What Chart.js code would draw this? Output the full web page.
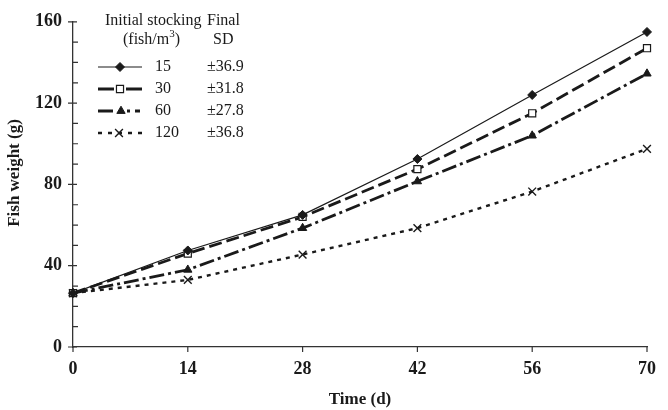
<!DOCTYPE html>
<html>
<head>
<meta charset="utf-8">
<script src="https://cdn.jsdelivr.net/npm/chart.js@4.4.0/dist/chart.umd.min.js"></script>
<style>
  body { margin: 0; background: #fff; }
  #wrap { width: 668px; height: 410px; }
</style>
</head>
<body>
<div id="wrap"><canvas id="myChart" width="668" height="410"></canvas></div>
<script>
    // values
    const DAYS = [0, 14, 28, 42, 56, 70]
    const W15 = [26.5, 47.5, 65, 92.5, 124, 155]
    const W30 = [26.5, 46, 64, 87.5, 115, 147]
    const W60 = [26.5, 38, 58.5, 81.5, 104, 134.5]
    const W120 = [26.5, 33, 45.5, 58.5, 76.5, 97.5]

    const STOCKING = ['15', '30', '60', '120']
    const FINAL_SD = ['±36.9', '±31.8', '±27.8', '±36.8']

    const Y_MAJOR = [0, 40, 80, 120, 160]
    const Y_MINOR = [10, 20, 30, 50, 60, 70, 90, 100, 110, 130, 140, 150]

    const SERIF = "'Liberation Serif', 'Times New Roman', serif"
    const INK = '#1a1a1a'

    function pts(arr) {
      return DAYS.map((d, i) => ({ x: d, y: arr[i] }))
    }

    // tick marks like the original: long major ticks across the y axis, short minor ones inside
    const tickMarks = {
      id: 'tickMarks',
      afterDraw(chart) {
        const ctx = chart.ctx
        const xs = chart.scales.x
        const ys = chart.scales.y
        const left = chart.chartArea.left
        const bottom = chart.chartArea.bottom
        ctx.save()
        ctx.strokeStyle = '#333'
        ctx.lineWidth = 1.2
        ctx.beginPath()
        Y_MAJOR.forEach(v => {
          const y = ys.getPixelForValue(v)
          ctx.moveTo(left - 5, y)
          ctx.lineTo(left + 4, y)
        })
        Y_MINOR.forEach(v => {
          const y = ys.getPixelForValue(v)
          ctx.moveTo(left, y)
          ctx.lineTo(left + 5, y)
        })
        DAYS.forEach(d => {
          const x = xs.getPixelForValue(d)
          ctx.moveTo(x, bottom)
          ctx.lineTo(x, bottom + 5)
        })
        ctx.stroke()

        // y axis title, sits a bit above the middle of the axis as in the original
        ctx.translate(15, 173)
        ctx.rotate(-Math.PI / 2)
        ctx.fillStyle = INK
        ctx.font = 'bold 17px ' + SERIF
        ctx.textAlign = 'center'
        ctx.textBaseline = 'middle'
        ctx.fillText('Fish weight (g)', 0, 0)
        ctx.restore()
      }
    }

    // the legend table in the upper left
    const tableLegend = {
      id: 'tableLegend',
      afterDraw(chart) {
        const ctx = chart.ctx
        ctx.save()
        ctx.fillStyle = INK
        ctx.font = '16px ' + SERIF
        ctx.textBaseline = 'middle'
        ctx.textAlign = 'left'
        ctx.fillText('Initial stocking', 105, 21)
        ctx.fillText('Final', 207, 21)
        ctx.fillText('SD', 213, 40)
        // (fish/m3) with superscript
        ctx.fillText('(fish/m', 123, 40)
        let w = ctx.measureText('(fish/m').width
        ctx.font = '11px ' + SERIF
        ctx.fillText('3', 123 + w, 34)
        let w3 = ctx.measureText('3').width
        ctx.font = '16px ' + SERIF
        ctx.fillText(')', 123 + w + w3, 40)

        const rows = [67, 89, 111, 133]
        chart.data.datasets.forEach((ds, i) => {
          const y = rows[i]
          ctx.save()
          ctx.strokeStyle = INK
          ctx.lineWidth = ds.borderWidth
          ctx.setLineDash(ds.legendDash)
          ctx.beginPath()
          ctx.moveTo(98, y)
          ctx.lineTo(142, y)
          ctx.stroke()
          ctx.setLineDash([])
          ctx.fillStyle = ds.pointBackgroundColor
          ctx.strokeStyle = INK
          ctx.lineWidth = ds.pointBorderWidth || 1
          Chart.helpers.drawPoint(ctx, {
            pointStyle: ds.pointStyle,
            radius: ds.pointRadius,
            borderWidth: ds.pointBorderWidth || 1
          }, ds.legendMark, y)
          ctx.restore()
          ctx.fillStyle = INK
          ctx.fillText(STOCKING[i], 155, y)
          ctx.fillText(FINAL_SD[i], 207, y)
        })
        ctx.restore()
      }
    }

    const ctx = document.getElementById('myChart').getContext('2d')
    const chart = new Chart(ctx, {
      type: 'line',
      data: {
        datasets: [{
          label: '15',
          data: pts(W15),
          borderColor: INK,
          borderWidth: 1.2,
          pointStyle: 'rectRot',
          pointRadius: 4.5,
          pointBorderWidth: 1,
          pointBackgroundColor: INK,
          pointBorderColor: INK,
          legendDash: [],
          legendMark: 120
        }, {
          label: '30',
          data: pts(W30),
          borderColor: INK,
          borderWidth: 2.8,
          borderDash: [13, 5],
          pointStyle: 'rect',
          pointRadius: 5,
          pointBorderWidth: 1.2,
          pointBackgroundColor: '#fff',
          pointBorderColor: INK,
          legendDash: [16, 12],
          legendMark: 120
        }, {
          label: '60',
          data: pts(W60),
          borderColor: INK,
          borderWidth: 2.8,
          borderDash: [15, 4, 3, 4],
          pointStyle: 'triangle',
          pointRadius: 4.8,
          pointBorderWidth: 1,
          pointBackgroundColor: INK,
          pointBorderColor: INK,
          legendDash: [15, 14, 3, 5, 5, 100],
          legendMark: 121
        }, {
          label: '120',
          data: pts(W120),
          borderColor: INK,
          borderWidth: 2.4,
          borderDash: [4, 5],
          pointStyle: 'crossRot',
          pointRadius: 5.5,
          pointBorderWidth: 1.4,
          pointBackgroundColor: INK,
          pointBorderColor: INK,
          legendDash: [4, 6],
          legendMark: 119
        }]
      },
      options: {
        responsive: false,
        animation: false,
        clip: false,
        layout: { padding: { left: 0, right: 11, top: 15, bottom: 0 } },
        plugins: {
          legend: { display: false },
          tooltip: { enabled: false }
        },
        scales: {
          x: {
            type: 'linear',
            min: 0,
            max: 70,
            afterFit: s => { s.height = 63 },
            afterBuildTicks: s => { s.ticks = DAYS.map(v => ({ value: v })) },
            grid: { display: false, drawTicks: false },
            border: { display: true, color: '#333', width: 1.3 },
            ticks: {
              padding: 12,
              color: INK,
              maxRotation: 0,
              font: { family: SERIF, size: 18, weight: 'bold' }
            },
            title: {
              display: true,
              text: 'Time (d)',
              color: INK,
              padding: { top: 0, bottom: 0 },
              font: { family: SERIF, size: 17, weight: 'bold' }
            }
          },
          y: {
            min: 0,
            max: 160,
            afterFit: s => { s.width = 73 },
            afterBuildTicks: s => { s.ticks = Y_MAJOR.map(v => ({ value: v })) },
            grid: { display: false, drawTicks: false },
            border: { display: true, color: '#333', width: 1.3 },
            ticks: {
              padding: 11,
              color: INK,
              font: { family: SERIF, size: 18, weight: 'bold' }
            },
            title: { display: false }
          }
        }
      },
      plugins: [tickMarks, tableLegend]
    })
</script>
</body>
</html>
